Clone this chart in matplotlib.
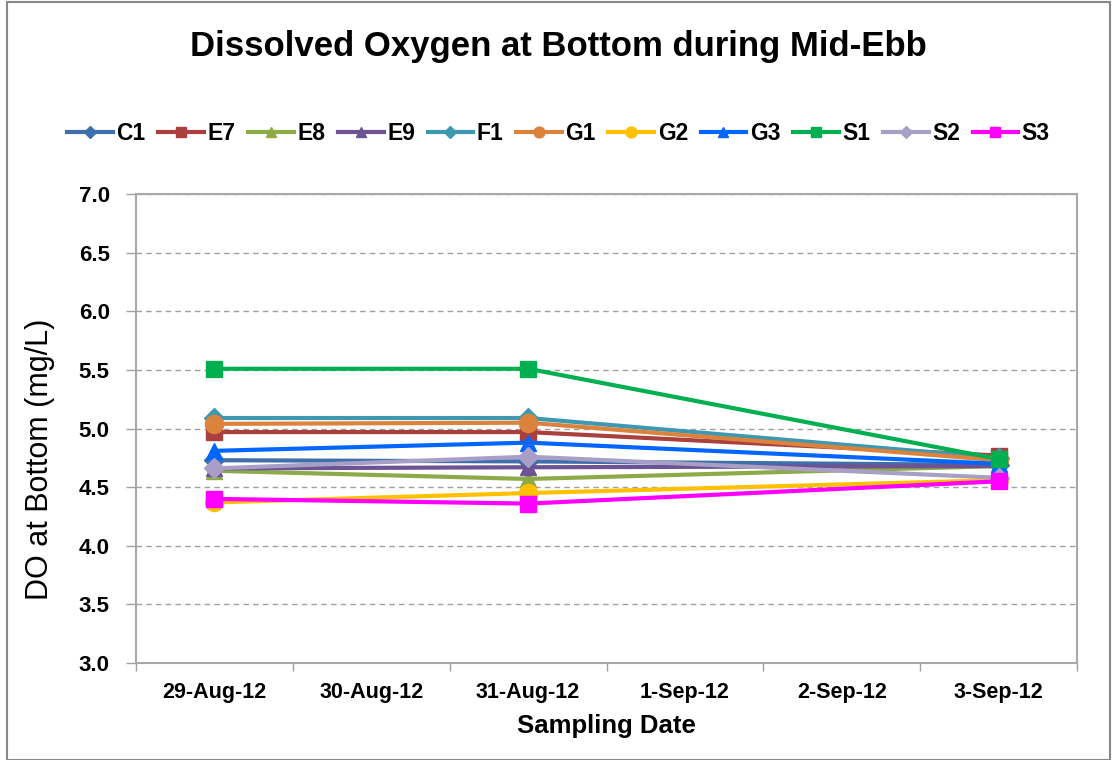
import matplotlib
matplotlib.use("Agg")
import matplotlib.pyplot as plt
from matplotlib.patches import Rectangle

plt.rcParams['font.family'] = ['Liberation Sans', 'DejaVu Sans']

# Category axis (every calendar day) and the days that were sampled
dates = ['29-Aug-12', '30-Aug-12', '31-Aug-12', '1-Sep-12', '2-Sep-12', '3-Sep-12']
sampled = ['29-Aug-12', '31-Aug-12', '3-Sep-12']

stations = ['C1', 'E7', 'E8', 'E9', 'F1', 'G1', 'G2', 'G3', 'S1', 'S2', 'S3']
c1 = [4.73, 4.72, 4.69]
e7 = [4.97, 4.97, 4.77]
e8 = [4.64, 4.57, 4.68]
e9 = [4.66, 4.67, 4.68]
f1 = [5.09, 5.09, 4.75]
g1 = [5.04, 5.05, 4.73]
g2 = [4.37, 4.45, 4.56]
g3 = [4.81, 4.88, 4.70]
s1 = [5.51, 5.51, 4.74]
s2 = [4.66, 4.76, 4.58]
s3 = [4.40, 4.36, 4.55]

series = [c1, e7, e8, e9, f1, g1, g2, g3, s1, s2, s3]
colors = ['#3F6FAA', '#A9403D', '#8DAA48', '#6D5394', '#3E98B0', '#DB823C',
          '#FFC000', '#0066FF', '#00B050', '#A89FC6', '#FF00FF']
markers = ['D', 's', '^', '^', 'D', 'o', 'o', '^', 's', 'D', 's']
msizes = [10, 12, 11, 11, 10, 13, 13, 11, 12, 10, 12]

x = [dates.index(d) for d in sampled]

fig = plt.figure(figsize=(11.17, 7.6), dpi=100)
ax = fig.add_axes([0.1218, 0.1276, 0.8424, 0.617])

for name, vals, col, mk, ms in zip(stations, series, colors, markers, msizes):
    ax.plot(x, vals, color=col, marker=mk, markersize=ms, linewidth=3,
            markeredgecolor=col, label=name)

ax.set_xlim(-0.5, len(dates) - 0.5)
ax.set_ylim(3.0, 7.0)
ax.set_yticks([3.0 + 0.5 * i for i in range(9)])
ax.set_yticklabels([f'{3.0 + 0.5 * i:.1f}' for i in range(9)], fontweight='bold')
ax.set_xticks(range(len(dates)))
ax.set_xticklabels(dates, fontweight='bold')
ax.set_xticks([i - 0.5 for i in range(len(dates) + 1)], minor=True)

ax.tick_params(axis='x', which='major', length=0, labelsize=15.5, pad=14)
ax.tick_params(axis='x', which='minor', length=6, color='#A0A0A0', width=1)
ax.tick_params(axis='y', length=7, color='#A0A0A0', width=1, labelsize=16, pad=12)

ax.grid(axis='y', color='#A0A0A0', linestyle=(0, (4, 3)), linewidth=1)
ax.set_axisbelow(True)
for side in ['left', 'bottom', 'top', 'right']:
    ax.spines[side].set_color('#A8A8A8')
    ax.spines[side].set_linewidth(1.5)

ax.set_xlabel('Sampling Date', fontsize=18.5, fontweight='bold', va='top')
ax.xaxis.set_label_coords(0.5, -0.108)
ax.set_ylabel('DO at Bottom (mg/L)', fontsize=22, fontweight='normal')
ax.yaxis.set_label_coords(-0.086, 0.435)

fig.suptitle('Dissolved Oxygen at Bottom during Mid-Ebb', fontsize=25,
             fontweight='bold', y=0.939, va='center')

leg = fig.legend(loc='center', bbox_to_anchor=(0.50, 0.824), ncol=len(stations),
                 frameon=False, fontsize=16.5, handlelength=2.0, handletextpad=0.15,
                 columnspacing=0.55, markerscale=0.6)
for t in leg.get_texts():
    t.set_fontweight('bold')

fig.patches.append(Rectangle((0.006, 0.0), 0.988, 0.998, transform=fig.transFigure,
                             fill=False, edgecolor='#888888', linewidth=1.5))

fig.savefig('out.png', dpi=100)
